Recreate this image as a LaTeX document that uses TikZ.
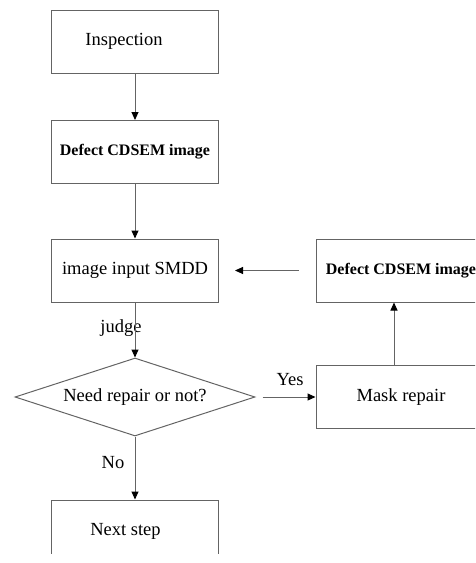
\documentclass[tikz,border=0pt]{standalone}
\usepackage{fontspec}
\setmainfont{Liberation Serif}
\usetikzlibrary{arrows.meta,shapes.geometric}
\definecolor{linegray}{RGB}{100,100,100}

\begin{document}
\begin{tikzpicture}[x=1pt,y=-1pt,
  font=\fontsize{18.5}{22}\selectfont,
  proc/.style={draw=linegray,line width=1pt,minimum width=167pt,minimum height=63pt,inner sep=0pt},
  decision/.style={diamond,draw=linegray,line width=1pt,minimum width=240pt,minimum height=78pt,aspect=3,inner sep=0pt},
  boldtext/.style={font=\fontsize{16}{18}\selectfont\bfseries},
  arr/.style={draw=linegray,line width=1pt,-{Triangle[length=8pt,width=7pt,color=black]}}]
  \useasboundingbox (0,0) rectangle (475,563);
  \clip (0,0) rectangle (475,553);

  % Main column
  \node[proc] (insp) at (135,41.5) {Inspection\hspace*{22pt}};
  \node[proc,boldtext] (defect) at (135,152) {Defect CDSEM image};
  \node[proc] (smdd) at (135,270.5) {image input SMDD};
  \node[decision] (check) at (135,397) {Need repair or not?};
  \node[proc] (next) at (135,531.5) {Next step\hspace*{19pt}};

  % Repair loop
  \node[proc,boldtext,minimum width=170pt] (rdefect) at (401,270.5) {Defect CDSEM image};
  \node[proc,minimum width=170pt] (mask) at (401,397) {Mask repair};

  % Labels
  \node (judge) at (121,328) {judge};
  \node (no) at (113,463) {No};
  \node (yes) at (290,380) {Yes};

  % Arrows
  \draw[arr] (insp) -- (defect);
  \draw[arr] (defect) -- (smdd);
  \draw[arr] (smdd) -- (check);
  \draw[arr] (check) -- (next);
  \draw[arr,shorten <=7pt] (check) -- (mask);
  \draw[arr] ([xshift=-7pt]mask.north) -- ([xshift=-7pt]rdefect.south);
  \draw[arr,shorten <=17pt,shorten >=16pt] (rdefect) -- (smdd);
\end{tikzpicture}
\end{document}
